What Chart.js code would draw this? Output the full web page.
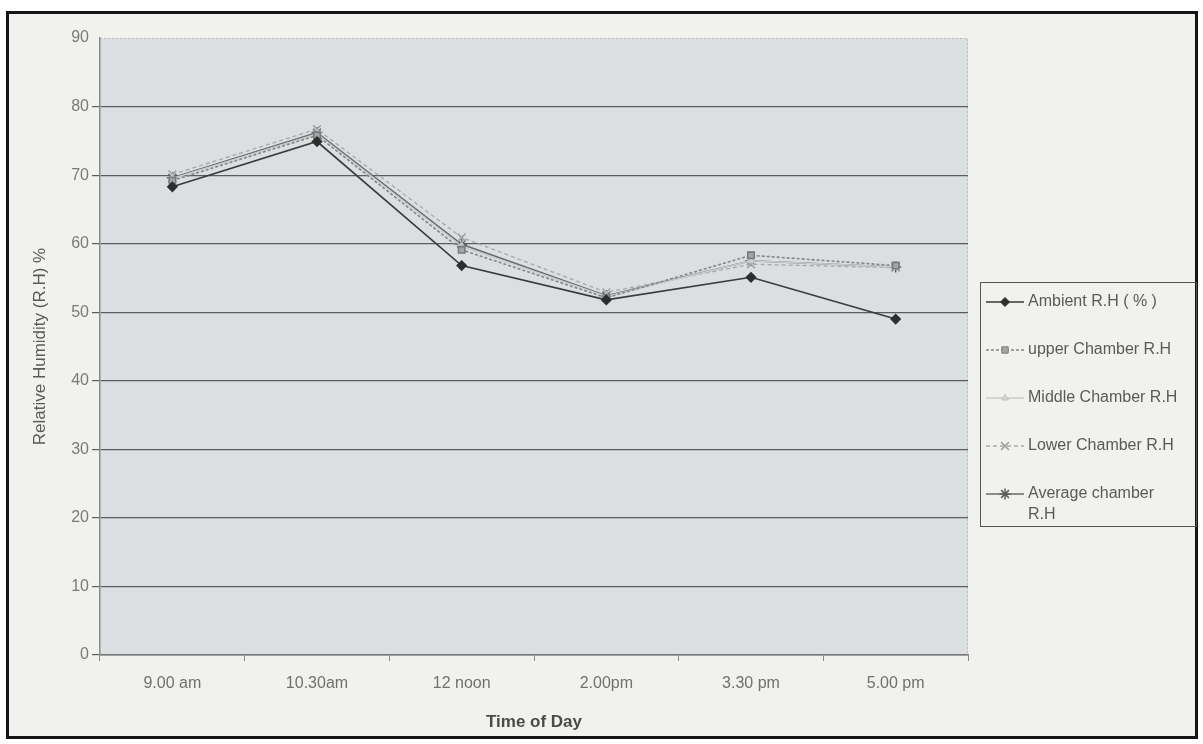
<!DOCTYPE html>
<html>
<head>
<meta charset="utf-8">
<script src="https://cdn.jsdelivr.net/npm/chart.js@4.4.0/dist/chart.umd.min.js"></script>
<style>
  html, body { margin: 0; padding: 0; background: #ffffff; }
  #frame {
    position: absolute; left: 6px; top: 11px; width: 1186px; height: 722px;
    border: 3px solid #151515; background: #f1f1ee;
  }
  #rh-chart { position: absolute; left: 0; top: 0; }
</style>
</head>
<body>
<div id="frame"></div>
<canvas id="rh-chart" width="1203" height="744"></canvas>
<script>
// ------------------------------------------------------
// @Data
// ------------------------------------------------------
const timesOfDay = ['9.00 am', '10.30am', '12 noon', '2.00pm', '3.30 pm', '5.00 pm'];
const ambientRH = [68.3, 74.9, 56.8, 51.8, 55.1, 49.0];
const upperRH = [69.2, 75.8, 59.1, 52.1, 58.3, 56.8];
const middleRH = [69.5, 76.0, 59.6, 52.3, 57.5, 56.6];
const lowerRH = [70.1, 76.7, 60.9, 52.9, 57.0, 56.5];
const averageRH = [69.6, 76.2, 59.9, 52.4, 57.5, 56.6];
const yTicks = [0, 10, 20, 30, 40, 50, 60, 70, 80, 90];
const seriesNames = ['Ambient R.H ( % )', 'upper Chamber R.H', 'Middle Chamber R.H', 'Lower Chamber R.H', ['Average chamber', 'R.H']];

const FONT = '"Liberation Sans", Arial, sans-serif';

// plot background
const plotBg = {
    id: 'plotBg',
    beforeDraw(chart) {
        const {ctx, chartArea: a} = chart;
        ctx.save();
        ctx.fillStyle = '#dcdfe1';
        ctx.fillRect(a.left, a.top, a.right - a.left, a.bottom - a.top);
        ctx.strokeStyle = '#b9bcbe';
        ctx.setLineDash([2, 2]);
        ctx.lineWidth = 1;
        ctx.beginPath();
        ctx.moveTo(a.left, a.top + 0.5);
        ctx.lineTo(a.right - 0.5, a.top + 0.5);
        ctx.lineTo(a.right - 0.5, a.bottom);
        ctx.stroke();
        ctx.restore();
    }
};

// boxed legend on the right, multi-line labels
const boxLegend = {
    id: 'boxLegend',
    afterDraw(chart) {
        const ctx = chart.ctx;
        const left = 980, top = 282, right = 1196, bottom = 526;
        ctx.save();
        ctx.strokeStyle = '#555';
        ctx.lineWidth = 1;
        ctx.strokeRect(left + 0.5, top + 0.5, right - left, bottom - top);
        const rows = [302, 350, 398, 446, 494];
        chart.data.datasets.forEach((ds, i) => {
            const y = rows[i];
            ctx.save();
            ctx.strokeStyle = ds.borderColor;
            ctx.lineWidth = 1.5;
            ctx.setLineDash(ds.borderDash || []);
            ctx.beginPath();
            ctx.moveTo(986, y);
            ctx.lineTo(1024, y);
            ctx.stroke();
            ctx.restore();
            if (Chart.helpers && Chart.helpers.drawPoint) {
                ctx.fillStyle = ds.pointBackgroundColor;
                ctx.strokeStyle = ds.pointBorderColor;
                ctx.lineWidth = ds.pointBorderWidth || 1;
                Chart.helpers.drawPoint(ctx, {
                    pointStyle: ds.pointStyle,
                    radius: ds.pointRadius,
                    borderWidth: ds.pointBorderWidth || 1
                }, 1005, y);
            }
            ctx.fillStyle = '#5a5a5a';
            ctx.font = '16px ' + FONT;
            ctx.textBaseline = 'middle';
            const name = seriesNames[i];
            const lines = Array.isArray(name) ? name : [name];
            lines.forEach((t, k) => ctx.fillText(t, 1028, y + k * 21));
        });
        ctx.restore();
    }
};

let rhBox = document.getElementById('rh-chart');

if (rhBox) {
    new Chart(rhBox.getContext('2d'), {
        type: 'line',
        data: {
            labels: timesOfDay,
            datasets: [{
                label: 'Ambient R.H ( % )',
                data: ambientRH,
                borderColor: '#3a3a3a',
                borderWidth: 1.6,
                pointStyle: 'rectRot',
                pointRadius: 4.5,
                pointBackgroundColor: '#2e2e2e',
                pointBorderColor: '#2e2e2e'
            }, {
                label: 'upper Chamber R.H',
                data: upperRH,
                borderColor: '#858585',
                borderWidth: 1.6,
                borderDash: [3, 2],
                pointStyle: 'rect',
                pointRadius: 4.5,
                pointBackgroundColor: '#a5a5a5',
                pointBorderColor: '#7a7a7a'
            }, {
                label: 'Middle Chamber R.H',
                data: middleRH,
                borderColor: '#c9cbcc',
                borderWidth: 1.4,
                pointStyle: 'triangle',
                pointRadius: 4,
                pointBackgroundColor: '#d2d4d5',
                pointBorderColor: '#c2c4c5'
            }, {
                label: 'Lower Chamber R.H',
                data: lowerRH,
                borderColor: '#a9abad',
                borderWidth: 1.4,
                borderDash: [4, 3],
                pointStyle: 'crossRot',
                pointRadius: 5.5,
                pointBorderWidth: 1.5,
                pointBackgroundColor: '#a9abad',
                pointBorderColor: '#a0a2a4'
            }, {
                label: 'Average chamber R.H',
                data: averageRH,
                borderColor: '#6a6a6a',
                borderWidth: 1.6,
                pointStyle: 'star',
                pointRadius: 5.5,
                pointBorderWidth: 1.5,
                pointBackgroundColor: '#6a6a6a',
                pointBorderColor: '#5e5e5e'
            }]
        },
        options: {
            responsive: false,
            animation: false,
            layout: {
                padding: {left: 26, right: 235, top: 38, bottom: 8}
            },
            plugins: {
                legend: {display: false},
                tooltip: {enabled: false}
            },
            scales: {
                x: {
                    offset: true,
                    grid: {
                        offset: true,
                        drawOnChartArea: false,
                        drawTicks: true,
                        tickLength: 6,
                        color: '#8a8a8a'
                    },
                    border: {color: '#777', width: 1.5},
                    ticks: {
                        color: '#707070',
                        padding: 13,
                        font: {family: FONT, size: 16}
                    },
                    title: {
                        display: true,
                        text: 'Time of Day',
                        color: '#4a4a4a',
                        padding: {top: 4, bottom: 3},
                        font: {family: FONT, size: 17, weight: 'bold'}
                    },
                    afterFit: (scale) => { scale.height = 744 - 655 - 8; }
                },
                y: {
                    min: 0,
                    max: 90,
                    afterBuildTicks: (scale) => { scale.ticks = yTicks.map(v => ({value: v})); },
                    grid: {
                        drawTicks: true,
                        tickLength: 8,
                        lineWidth: 1.2,
                        color: (c) => c.tick && c.tick.value === 90 ? 'rgba(0,0,0,0)' : '#5a5c5e'
                    },
                    border: {color: '#8a8a8a', width: 1.5},
                    ticks: {
                        color: '#7a7a7a',
                        padding: 3,
                        font: {family: FONT, size: 16}
                    },
                    title: {
                        display: true,
                        text: 'Relative Humidity (R.H) %',
                        color: '#5a5a5a',
                        padding: {top: 4, bottom: 4},
                        font: {family: FONT, size: 17}
                    },
                    afterFit: (scale) => { scale.width = 100 - 26; }
                }
            }
        },
        plugins: [plotBg, boxLegend]
    });
}
</script>
</body>
</html>
